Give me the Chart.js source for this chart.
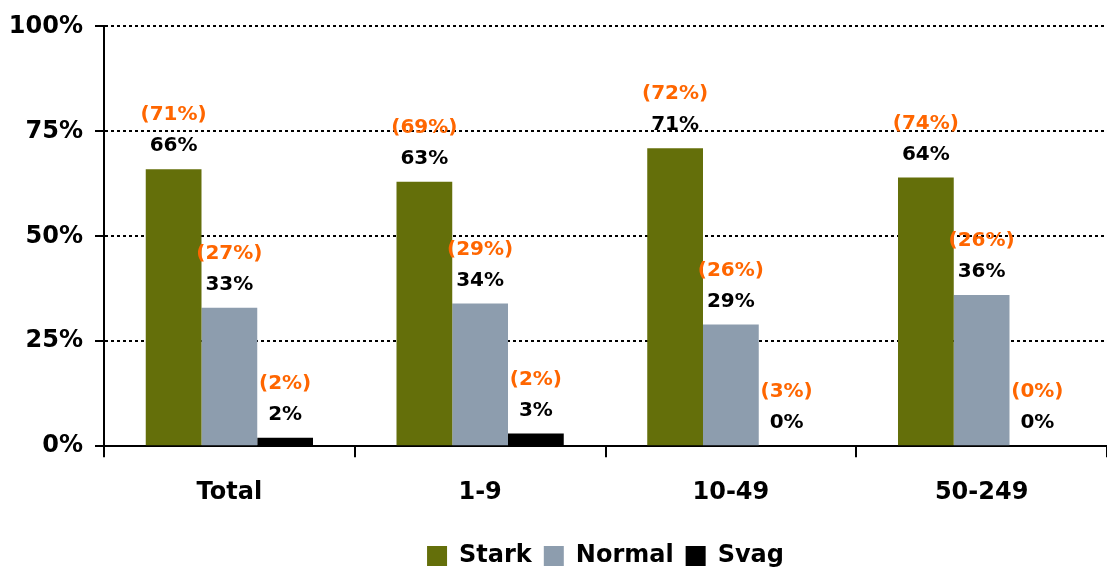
<!DOCTYPE html>
<html>
<head>
<meta charset="utf-8">
<script src="https://cdn.jsdelivr.net/npm/chart.js@4"></script>
<style>
  html, body { margin: 0; padding: 0; background: #fff; overflow: hidden; }
  #wrap { position: relative; width: 1107px; height: 578px; }
</style>
</head>
<body>
<div id="wrap"><canvas id="sizeChart"></canvas></div>
<script>
const categories = ["Total", "1-9", "10-49", "50-249"];
const seriesNames = ["Stark", "Normal", "Svag"];
const stark = [66, 63, 71, 64];
const normal = [33, 34, 29, 36];
const svag = [2, 3, 0, 0];
// previous figures, shown in parentheses
const starkPrev = [71, 69, 72, 74];
const normalPrev = [27, 29, 26, 26];
const svagPrev = [2, 2, 3, 0];
const yTicks = [0, 25, 50, 75, 100];

const colors = ["#646F0A", "#8D9DAE", "#000000"];
const FONT = "'DejaVu Sans', sans-serif";

const valueLabels = {
    id: "valueLabels",
    afterDatasetsDraw(chart) {
        const ctx = chart.ctx;
        ctx.save();
        ctx.textAlign = "center";
        ctx.textBaseline = "middle";
        chart.data.datasets.forEach((ds, i) => {
            const meta = chart.getDatasetMeta(i);
            meta.data.forEach((bar, j) => {
                ctx.font = "bold 20px " + FONT;
                ctx.fillStyle = "#000";
                ctx.fillText(ds.data[j] + "%", bar.x, bar.y - 23);
                ctx.fillStyle = "#FF6600";
                ctx.fillText("(" + ds.prev[j] + "%)", bar.x, bar.y - 54);
            });
        });
        ctx.restore();
    }
};

new Chart(document.getElementById("sizeChart"), {
    type: "bar",
    data: {
        labels: categories,
        datasets: [
            { label: seriesNames[0], data: stark, prev: starkPrev, backgroundColor: colors[0] },
            { label: seriesNames[1], data: normal, prev: normalPrev, backgroundColor: colors[1] },
            { label: seriesNames[2], data: svag, prev: svagPrev, backgroundColor: colors[2] }
        ]
    },
    options: {
        responsive: true,
        maintainAspectRatio: false,
        animation: false,
        categoryPercentage: 0.667,
        barPercentage: 1.0,
        layout: { padding: { top: 15, right: 0, left: 0, bottom: 0 } },
        plugins: {
            tooltip: { enabled: false },
            legend: {
                position: "bottom",
                fullSize: false,
                labels: {
                    color: "#000",
                    boxWidth: 20,
                    boxHeight: 20,
                    padding: 12,
                    font: { family: FONT, size: 24, weight: "bold" }
                }
            }
        },
        scales: {
            x: {
                afterFit: (scale) => { scale.height += 4; },
                grid: {
                    offset: true,
                    drawOnChartArea: false,
                    color: "#000",
                    tickLength: 11,
                    lineWidth: 2
                },
                border: { color: "#000", width: 2 },
                ticks: {
                    color: "#000",
                    padding: 21,
                    font: { family: FONT, size: 24, weight: "bold" }
                }
            },
            y: {
                min: 0,
                max: 100,
                afterBuildTicks: (scale) => {
                    scale.ticks = yTicks.map(v => ({ value: v }));
                },
                afterFit: (scale) => { scale.width = 104; },
                grid: {
                    color: (c) => c.tick && c.tick.value === 0 ? "rgba(0,0,0,0)" : "#000",
                    lineWidth: 2,
                    tickBorderDash: [1, 0],
                    tickColor: "#000",
                    tickLength: 9
                },
                border: { color: "#000", width: 2, dash: [3, 3] },
                ticks: {
                    color: "#000",
                    padding: 12,
                    font: { family: FONT, size: 24, weight: "bold" },
                    callback: (v) => v + "%"
                }
            }
        }
    },
    plugins: [valueLabels]
});
</script>
</body>
</html>
